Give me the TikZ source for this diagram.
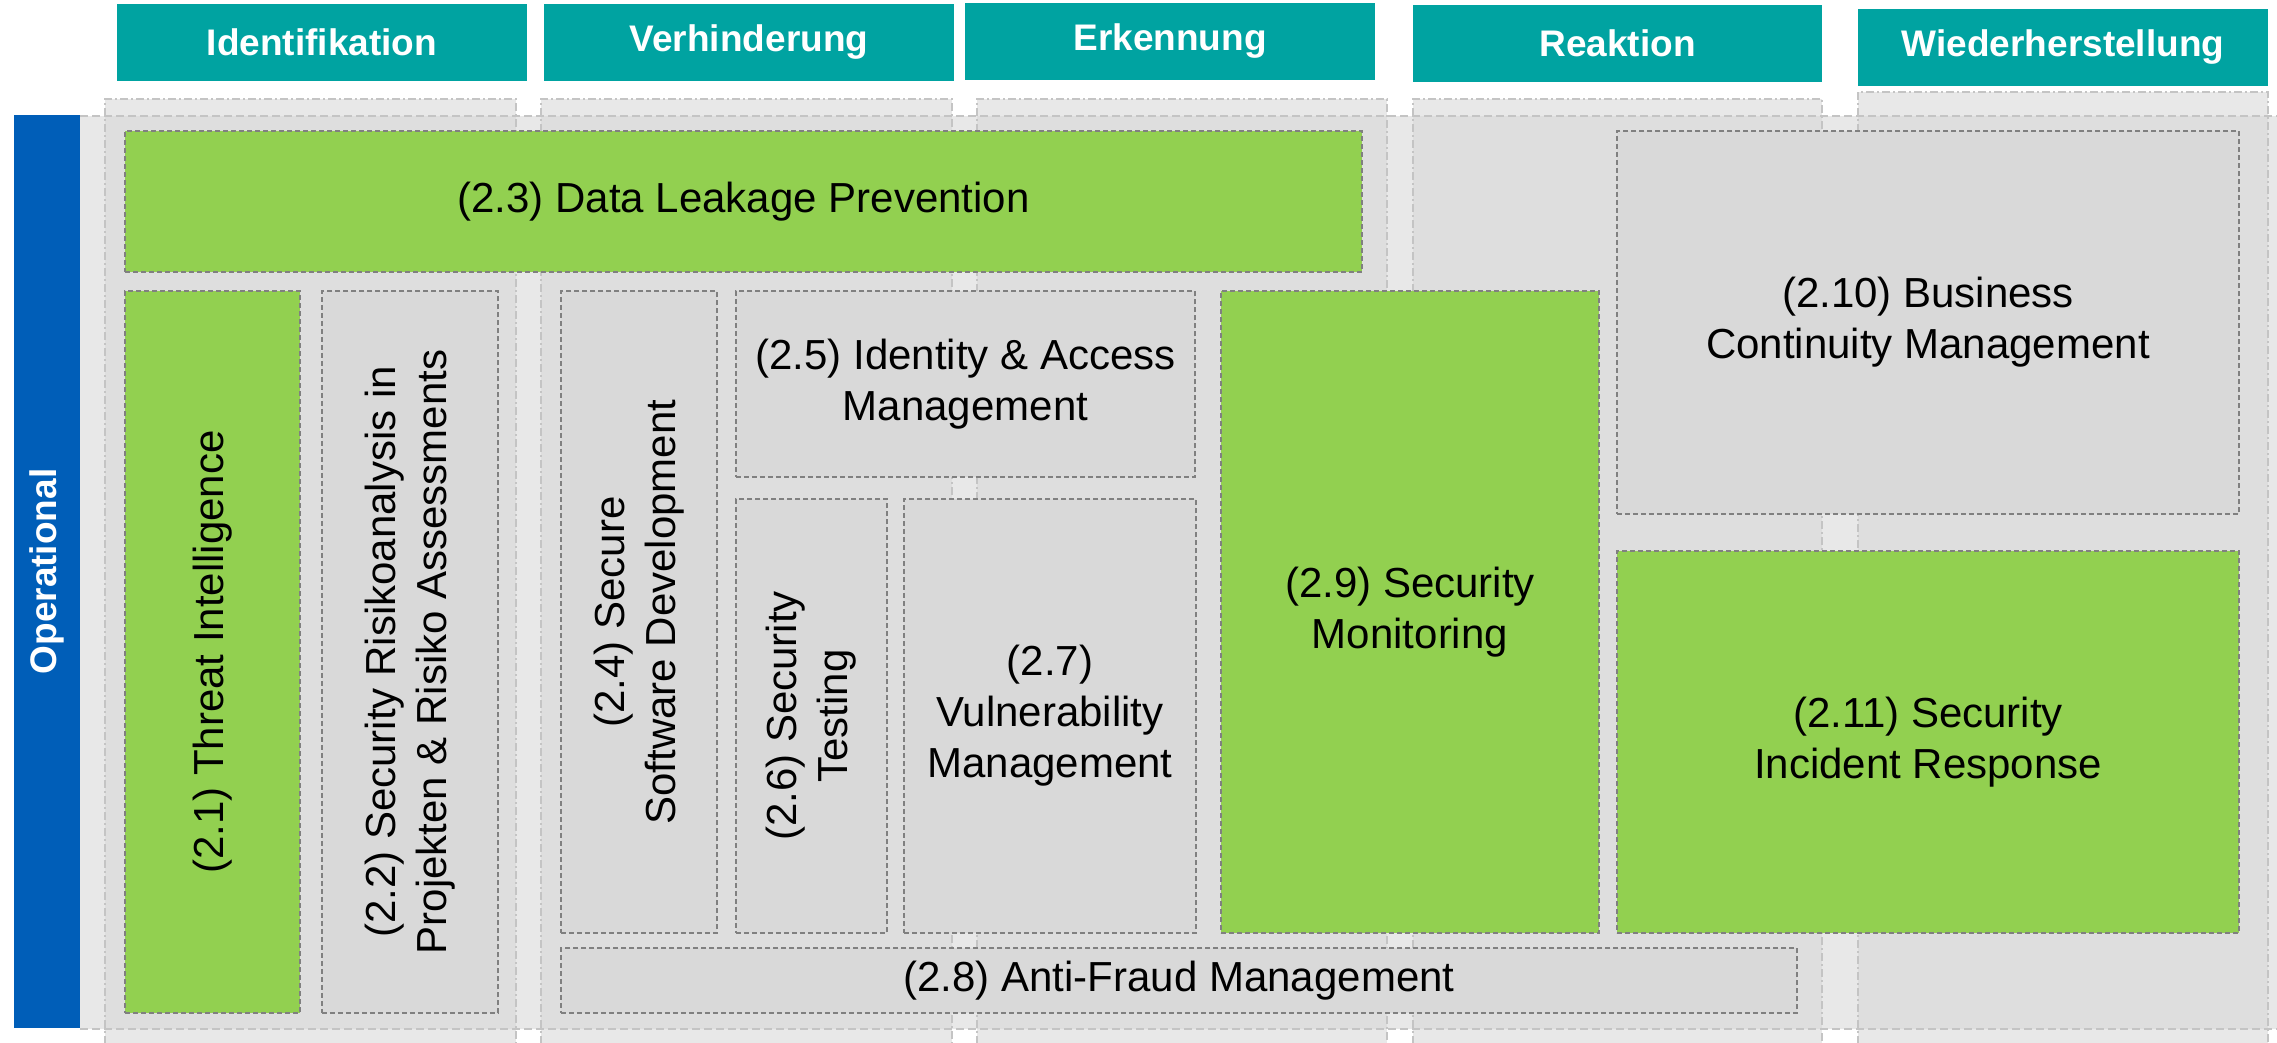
\documentclass[tikz,border=0pt]{standalone}
\usepackage{fontspec}
\setmainfont{Liberation Sans}
\definecolor{hdrteal}{HTML}{00A3A1}
\definecolor{bluebar}{HTML}{005EB8}
\definecolor{grn}{HTML}{92D050}
\definecolor{boxgray}{HTML}{D9D9D9}
\definecolor{lanelight}{HTML}{E8E8E8}
\definecolor{lanedark}{HTML}{DEDEDE}
\definecolor{boxline}{HTML}{808080}
\definecolor{laneline}{HTML}{C4C4C4}
\newcommand\bodyfont{\fontsize{42}{51}\selectfont}
\newcommand\hdrfont{\fontsize{37}{44}\selectfont\bfseries}
\tikzset{
  hdr/.style={fill=hdrteal, text=white, font=\hdrfont, inner sep=0pt, outer sep=0pt, minimum width=410pt, minimum height=77pt},
  card/.style={draw=boxline, line width=1.6pt, dash pattern=on 5pt off 3pt, inner sep=0pt, outer sep=0pt},
  gcard/.style={card, fill=grn},
  scard/.style={card, fill=boxgray},
  lbl/.style={font=\bodyfont, align=center, inner sep=0pt, text=black},
  vlbl/.style={lbl, rotate=90},
  stripeborder/.style={draw=laneline, line width=1.6pt, dash pattern=on 8pt off 3pt on 2pt off 3pt},
  bandborder/.style={draw=laneline, line width=1.6pt, dash pattern=on 8pt off 4pt},
}
\begin{document}
\begin{tikzpicture}[x=1pt, y=-1pt]
\useasboundingbox (0,0) rectangle (2277,1043);
\fill[white] (0,0) rectangle (2277,1043);
% column stripes
\foreach \a/\b/\t in {105/516/99, 541/952/99, 977/1387/99, 1413/1822/99, 1858/2268/92} {
  \fill[lanelight] (\a,\t) rectangle (\b,1060);
}
% row band
\fill[lanelight] (80,116) rectangle (2300,1029);
\foreach \a/\b in {105/516, 541/952, 977/1387, 1413/1822, 1858/2268} {
  \fill[lanedark] (\a,116) rectangle (\b,1029);
}
\foreach \a/\b/\t in {105/516/99, 541/952/99, 977/1387/99, 1413/1822/99, 1858/2268/92} {
  \draw[stripeborder] (\a,1060) -- (\a,\t) -- (\b,\t) -- (\b,1060);
}
\draw[bandborder] (80,116) -- (2300,116);
\draw[bandborder] (80,1029) -- (2300,1029);

% headers
\node[hdr] (h1) at (322,42.5) {Identifikation};
\node[hdr] (h2) at (749,42.5) {Verhinderung};
\node[hdr] (h3) at (1170,41.5) {Erkennung};
\node[hdr, minimum width=409pt] (h4) at (1617.5,43.5) {Reaktion};
\node[hdr] (h5) at (2063,47.5) {Wiederherstellung};

% row label
\node[fill=bluebar, inner sep=0pt, outer sep=0pt, minimum width=66pt, minimum height=913pt] (op) at (47,571.5) {};
\node[rotate=90, text=white, font=\hdrfont, inner sep=0pt] (opl) at (op.center) {Operational};

% boxes
\node[gcard, minimum width=1237pt, minimum height=141pt] (b23) at (743.5,201.5) {};
\node[lbl] (t23) at (b23.center) {(2.3) Data Leakage Prevention};

\node[gcard, minimum width=175pt, minimum height=722pt] (b21) at (212.5,652) {};
\node[vlbl] (t21) at (b21.center) {(2.1) Threat Intelligence};

\node[scard, minimum width=176pt, minimum height=722pt] (b22) at (410,652) {};
\node[vlbl] (t22) at (b22.center) {(2.2) Security Risikoanalysis in\\Projekten \& Risiko Assessments};

\node[scard, minimum width=156pt, minimum height=642pt] (b24) at (639,612) {};
\node[vlbl] (t24) at (b24.center) {(2.4) Secure\\Software Development};

\node[scard, minimum width=459pt, minimum height=186pt] (b25) at (965.5,384) {};
\node[lbl] (t25) at (b25.center) {(2.5) Identity \& Access\\Management};

\node[scard, minimum width=151pt, minimum height=434pt] (b26) at (811.5,716) {};
\node[vlbl] (t26) at (b26.center) {(2.6) Security\\Testing};

\node[scard, minimum width=292pt, minimum height=434pt] (b27) at (1050,716) {};
\node[lbl] (t27) at (b27.center) {(2.7)\\Vulnerability\\Management};

\node[scard, minimum width=1236pt, minimum height=65pt] (b28) at (1179,980.5) {};
\node[lbl] (t28) at (b28.center) {(2.8) Anti-Fraud Management};

\node[gcard, minimum width=378pt, minimum height=642pt] (b29) at (1410,612) {};
\node[lbl] (t29) at (b29.center) {(2.9) Security\\Monitoring};

\node[scard, minimum width=622pt, minimum height=383pt] (b210) at (1928,322.5) {};
\node[lbl] (t210) at (b210.center) {(2.10) Business\\Continuity Management};

\node[gcard, minimum width=622pt, minimum height=382pt] (b211) at (1928,742) {};
\node[lbl] (t211) at (b211.center) {(2.11) Security\\Incident Response};
\end{tikzpicture}
\end{document}
